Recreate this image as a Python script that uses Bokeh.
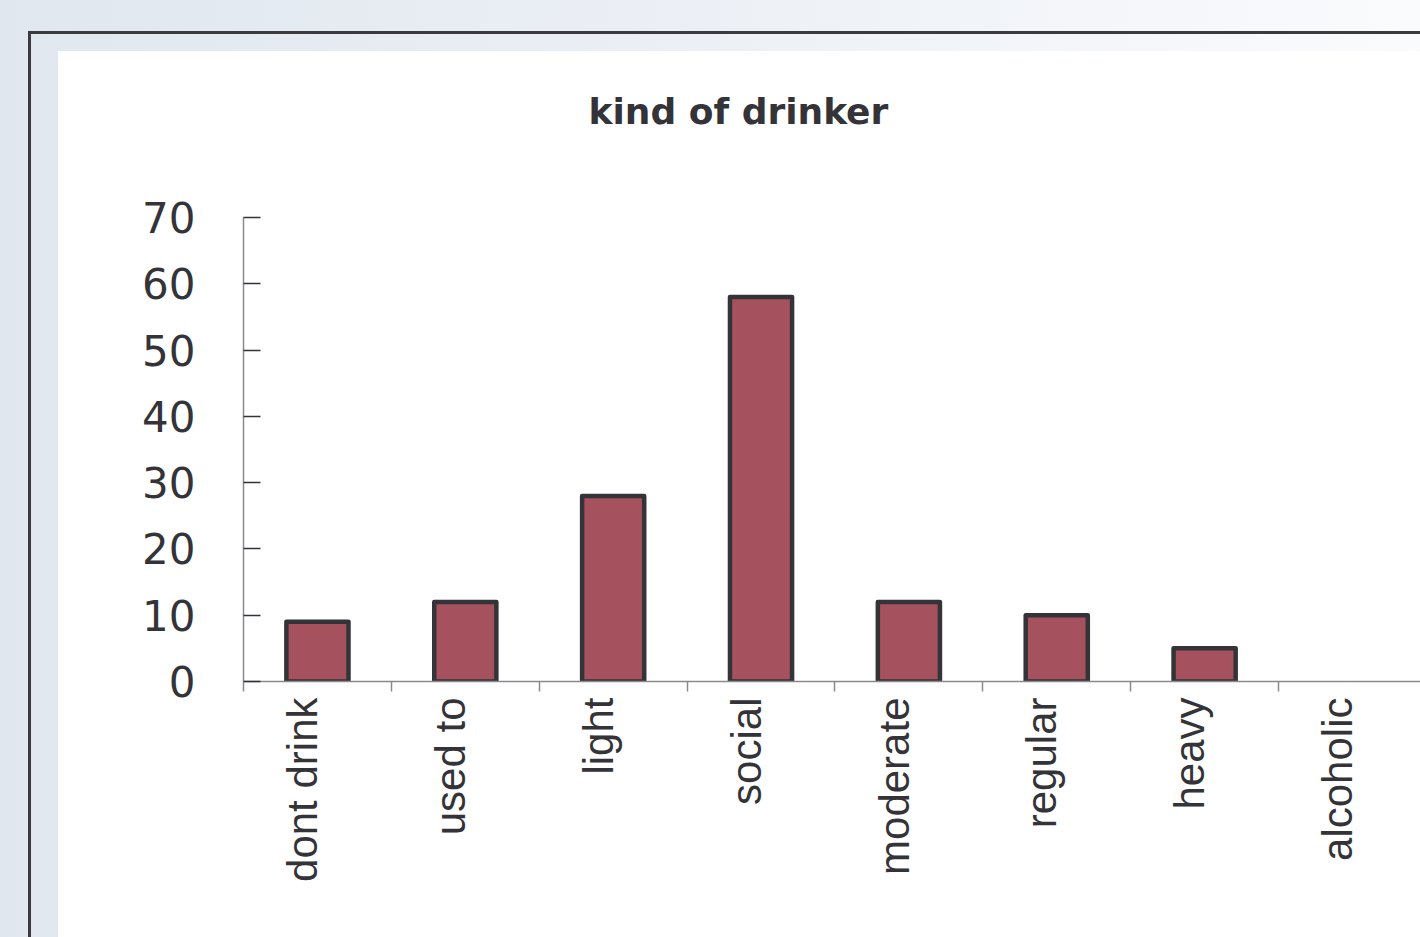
import math

from bokeh.plotting import figure
from bokeh.models import Range1d, FixedTicker, LinearAxis, ColumnDataSource
from bokeh.embed import file_html
from bokeh.resources import INLINE

# Data
categories = ["dont drink", "used to", "light", "social", "moderate", "regular", "heavy", "alcoholic"]
counts = [9, 12, 28, 58, 12, 10, 5, 0]
y_ticks = [0, 10, 20, 30, 40, 50, 60, 70]

positions = list(range(len(categories)))
slot_edges = [i - 0.5 for i in range(len(categories) + 1)]
# category names sit slightly left of the bar centres
label_anchors = [i - 0.1 for i in positions]

INK = "#333338"
AXIS_GREY = "#8a8a8e"
BAR_FILL = "#a5525e"

# Page backdrop: bluish gradient, dark frame lines, white panel
backdrop = (
    "linear-gradient(#ffffff,#ffffff) 58px 51px / 1362px 886px no-repeat, "
    "linear-gradient(#3a3a3f,#3a3a3f) 28px 31px / 1392px 3px no-repeat, "
    "linear-gradient(#3a3a3f,#3a3a3f) 28px 31px / 3px 906px no-repeat, "
    "linear-gradient(90deg, #e0e7ef 0%, #ebeff5 45%, #fafbfd 100%)"
)

p = figure(
    width=1420, height=937,
    x_range=Range1d(-0.5, 7.46), y_range=Range1d(0, 70),
    output_backend="svg", toolbar_location=None, tools="",
    min_border_left=243, min_border_right=0,
    min_border_top=217, min_border_bottom=256,
    border_fill_color=None, background_fill_color=None,
    outline_line_color=None,
    x_axis_type=None, y_axis_type=None,
    styles={"background": backdrop},
)
p.xgrid.visible = False
p.ygrid.visible = False

p.title.text = "kind of drinker"
p.title.align = "left"
p.title.offset = 345
p.title.standoff = 172
p.title.text_font = "DejaVu Sans"
p.title.text_font_size = "36px"
p.title.text_font_style = "bold"
p.title.text_color = INK

source = ColumnDataSource(dict(
    x=positions,
    top=counts,
    edge_alpha=[1.0 if v > 0 else 0.0 for v in counts],
))
p.vbar(x="x", top="top", width=0.42, source=source,
       fill_color=BAR_FILL, line_color=INK, line_width=4.5,
       line_alpha="edge_alpha", line_join="round")

yaxis = LinearAxis(
    ticker=FixedTicker(ticks=y_ticks, minor_ticks=[]),
    axis_line_color=AXIS_GREY, axis_line_width=1.5,
    major_tick_in=17, major_tick_out=0,
    major_tick_line_color=INK, major_tick_line_width=1.5,
    minor_tick_line_color=None,
    major_label_standoff=48,
    major_label_text_font="DejaVu Sans",
    major_label_text_font_size="42px",
    major_label_text_color=INK,
)
p.add_layout(yaxis, "left")

xaxis = LinearAxis(
    ticker=FixedTicker(ticks=label_anchors, minor_ticks=slot_edges),
    major_label_overrides={a: c for a, c in zip(label_anchors, categories)},
    axis_line_color=AXIS_GREY, axis_line_width=1.5,
    major_tick_line_color=None,
    minor_tick_in=0, minor_tick_out=10,
    minor_tick_line_color=AXIS_GREY, minor_tick_line_width=1.5,
    major_label_orientation=math.pi / 2,
    major_label_standoff=6,
    major_label_text_font="Liberation Sans",
    major_label_text_font_size="42px",
    major_label_text_color=INK,
)
p.add_layout(xaxis, "below")

open("out.html", "w").write(file_html(p, INLINE))
